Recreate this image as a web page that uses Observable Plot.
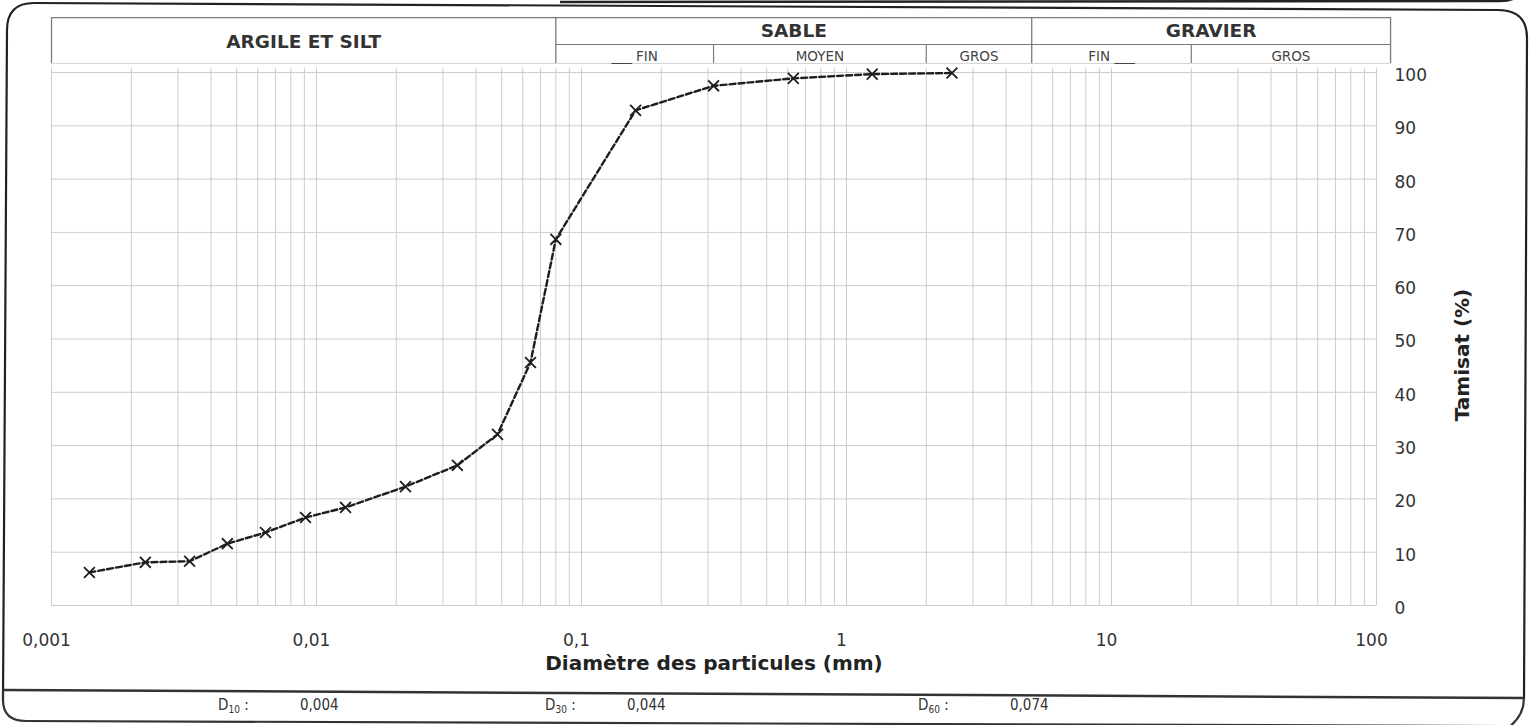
<!DOCTYPE html>
<html><head><meta charset="utf-8">
<script src="https://cdn.jsdelivr.net/npm/d3@7"></script>
<script src="https://cdn.jsdelivr.net/npm/@observablehq/plot@0.6"></script>
<style>
body{margin:0;background:#fff;}
#wrap{position:relative;width:1538px;height:725px;overflow:hidden;background:#fff;font-family:"DejaVu Sans",Verdana,sans-serif;}
#chart{position:absolute;left:0;top:0;}
#frame{position:absolute;left:0;top:0;pointer-events:none;}
.dl{position:absolute;top:696px;font-family:"DejaVu Sans Condensed","DejaVu Sans",sans-serif;font-size:15px;color:#333;line-height:19px;white-space:nowrap;}
.dl sub{font-size:10px;vertical-align:-3px;}
</style></head><body>
<div id="wrap">
  <div id="chart"></div>
  <svg id="frame" width="1538" height="725">
    <path d="M3,700 L7,30 Q7,3 34,3 L1498,10 Q1527,10 1527,38 L1524,698" fill="none" stroke="#222" stroke-width="2.2"/>
    <path d="M560,2 L1500,1 Q1514,1 1520,-6" fill="none" stroke="#222" stroke-width="2.5"/>
    <path d="M3,690 L1524,698" fill="none" stroke="#333" stroke-width="2.5"/>
    <path d="M3,690 L3,700 Q3,721 26,721 L1505,726" fill="none" stroke="#333" stroke-width="2.2"/>
    <path d="M1524,698 Q1524,716 1508,728" fill="none" stroke="#333" stroke-width="2.2"/>
  </svg>
  <div id="dvals"></div>
</div>
<script>
// ---- data ----
const diameters = [0.00139, 0.00226, 0.00332, 0.00461, 0.00642, 0.00909, 0.01287, 0.02167, 0.0340, 0.0482, 0.0642, 0.08, 0.16, 0.315, 0.63, 1.25, 2.5];
const passing   = [6.2, 8.1, 8.3, 11.6, 13.7, 16.5, 18.4, 22.3, 26.3, 32.1, 45.6, 68.7, 92.9, 97.5, 98.9, 99.7, 99.9];

const xTicks = [0.001, 0.01, 0.1, 1, 10, 100];
const xTickLabels = ["0,001", "0,01", "0,1", "1", "10", "100"];
const yTicks = [0, 10, 20, 30, 40, 50, 60, 70, 80, 90, 100];

const mainClasses = ["ARGILE ET SILT", "SABLE", "GRAVIER"];
const mainFrom = [0.001, 0.08, 5];
const mainTo = [0.08, 5, 113];
const subClasses = ["___ FIN", "MOYEN", "GROS", "FIN ___", "GROS"];
const subFrom = [0.08, 0.315, 2, 5, 20];
const subTo = [0.315, 2, 5, 20, 113];

const xTitle = "Diamètre des particules (mm)";
const yTitle = "Tamisat (%)";

const dSubs = ["10", "30", "60"];
const dValues = ["0,004", "0,044", "0,074"];

// ---- build ----
const data = diameters.map((d, i) => ({d, p: passing[i]}));
const xLabelMap = new Map(xTicks.map((t, i) => [t, xTickLabels[i]]));
const gridX = [];
for (let k = -3; k <= 1; k++) for (let m = 1; m <= 9; m++) gridX.push(+(m * Math.pow(10, k)).toPrecision(3));
gridX.push(100);

const mains = mainClasses.map((c, i) => ({c, a: mainFrom[i], b: mainTo[i], mid: Math.sqrt(mainFrom[i] * mainTo[i])}));
const subs = subClasses.map((c, i) => ({c, a: subFrom[i], b: subTo[i], mid: Math.sqrt(subFrom[i] * subTo[i])}));

// header vertical levels (in y units, above the 100 % line)
const H_TOP = 110.3, H_MID = 105.25, H_BOT = 101.7;
const H_END = mainTo[mainTo.length - 1];
const headerColor = "#7a7a7a";

const plot = Plot.plot({
  width: 1538, height: 690,
  marginLeft: 51, marginRight: 162, marginTop: 72, marginBottom: 85,
  x: {type: "log", domain: [0.001, 100]},
  y: {domain: [0, 100]},
  style: {fontFamily: "'DejaVu Sans', Verdana, sans-serif", background: "transparent", color: "#333", overflow: "visible"},
  marks: [
    // grid
    Plot.ruleX(gridX, {y1: 0, y2: 100.8, stroke: "#cdcdcd", strokeWidth: 1}),
    Plot.ruleY(yTicks, {x1: 0.001, x2: 100, stroke: "#cdcdcd", strokeWidth: 1}),
    // header frame
    Plot.ruleY([H_TOP], {x1: mainFrom[0], x2: H_END, stroke: headerColor, strokeWidth: 1.3}),
    Plot.ruleY([H_MID], {x1: mainFrom[1], x2: H_END, stroke: headerColor, strokeWidth: 1.2}),
    Plot.ruleY([H_BOT], {x1: mainFrom[0], x2: H_END, stroke: "#d4d4d4", strokeWidth: 1}),
    Plot.ruleX([...mainFrom, H_END], {y1: H_BOT, y2: H_TOP, stroke: headerColor, strokeWidth: 1.3}),
    Plot.ruleX(subFrom.filter(v => !mainFrom.includes(v)), {y1: H_BOT, y2: H_MID, stroke: headerColor, strokeWidth: 1.2}),
    Plot.text(mains.slice(0, 1), {x: "mid", y: 105.8, text: "c", fontSize: 18.5, fontWeight: "bold", fill: "#333"}),
    Plot.text(mains.slice(1), {x: "mid", y: 107.8, text: "c", fontSize: 18.5, fontWeight: "bold", fill: "#333"}),
    Plot.text(subs, {x: "mid", y: 103.0, text: "c", fontSize: 13.5, fill: "#444"}),
    // curve
    Plot.line(data, {x: "d", y: "p", stroke: "#1e1e1e", strokeWidth: 2.4, strokeDasharray: "6,3"}),
    Plot.dot(data, {x: "d", y: "p", symbol: "times", r: 5, stroke: "#1e1e1e", strokeWidth: 1.8}),
    // axes
    Plot.axisX({ticks: xTicks, tickSize: 0, tickPadding: 28, fontSize: 17, dx: -5, tickFormat: d => xLabelMap.get(d), label: null}),
    Plot.axisY({ticks: yTicks, anchor: "right", tickSize: 0, tickPadding: 18, fontSize: 17, dy: 3, label: null}),
    Plot.text([xTitle], {frameAnchor: "bottom", dy: 64, fontSize: 20, fontWeight: "bold", fill: "#222"}),
    Plot.text([yTitle], {frameAnchor: "right", textAnchor: "middle", dx: 86, dy: 16, rotate: -90, fontSize: 20, fontWeight: "bold", fill: "#222"})
  ]
});
document.getElementById("chart").appendChild(plot);

// D values band
const dPos = [[218, 300], [545, 627], [918, 1010]];
const dv = document.getElementById("dvals");
dSubs.forEach((s, i) => {
  const a = document.createElement("div");
  a.className = "dl"; a.style.left = dPos[i][0] + "px";
  a.innerHTML = "D<sub>" + s + "</sub> :";
  const b = document.createElement("div");
  b.className = "dl"; b.style.left = dPos[i][1] + "px";
  b.textContent = dValues[i];
  dv.appendChild(a); dv.appendChild(b);
});
</script>
</body></html>
